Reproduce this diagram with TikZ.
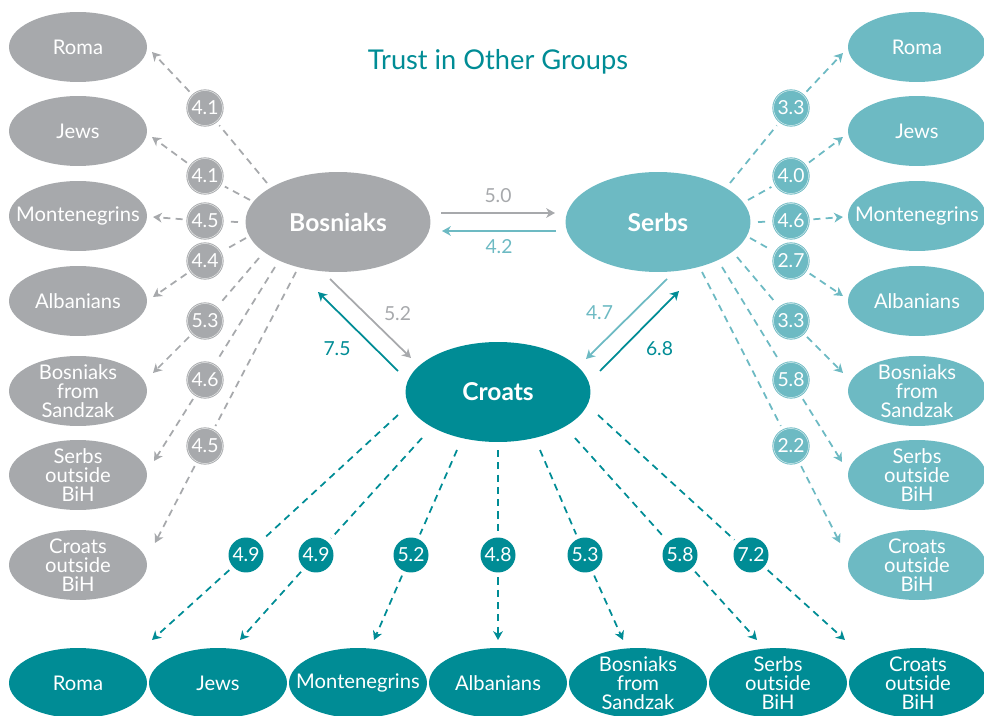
\documentclass[tikz,border=0pt]{standalone}
\usepackage{fontspec}
\setmainfont{Lato}
\usetikzlibrary{positioning,calc,arrows.meta,shapes.geometric}

\definecolor{grp}{HTML}{A7A9AC}
\definecolor{ltl}{HTML}{6DBAC3}
\definecolor{dtl}{HTML}{008C95}

\tikzset{
  side/.style={ellipse, minimum width=2.76cm, minimum height=1.4cm, inner sep=0pt},
  sidetxt/.style={text=white, align=center, font=\fontsize{11.5}{10.8}\selectfont},
  hub/.style={ellipse, minimum width=3.7cm, minimum height=2cm, text=white,
    font=\fontsize{14}{16}\selectfont\bfseries},
  badge/.style={circle, minimum size=0.7cm, inner sep=0pt, outer sep=0.1cm,
    text=white, font=\fontsize{11}{13}\selectfont},
  ring/.style={draw=#1, line width=0.5pt, double=white!75!#1, double distance=0.3pt},
  dsh/.style={line width=1pt, dash pattern=on 4pt off 3pt,
    -{Stealth[length=5pt,width=5.5pt,inset=1.5pt]}},
  sld/.style={line width=1pt, -{Stealth[length=5pt,width=5.5pt,inset=1.5pt]}},
  num/.style={font=\fontsize{11}{13}\selectfont},
}

\begin{document}
\begin{tikzpicture}[x=0.02cm,y=-0.02cm]
  \useasboundingbox (0,0) rectangle (984,716);

  \node[text=dtl, font=\fontsize{15.5}{18}\selectfont] (title) at (498,62) {Trust in Other Groups};

  % the three groups
  \node[hub, fill=grp] (bos) at (338,222) {Bosniaks};
  \node[hub, fill=ltl] (ser) at (658,222) {Serbs};
  \node[hub, fill=dtl] (cro) at (498,392) {Croats};

  % side columns
  \foreach \nm/\txt/\yy in {roma/Roma/47, jews/Jews/131, mont/Montenegrins/216,
      alb/Albanians/301, sand/{Bosniaks\\from\\Sandzak}/391,
      serb/{Serbs\\outside\\BiH}/475, croa/{Croats\\outside\\BiH}/565}{
    \node[side, fill=grp, label={[sidetxt]center:\txt}] (l\nm) at (78,\yy) {};
    \node[side, fill=ltl, label={[sidetxt]center:\txt}] (r\nm) at (917,\yy) {};
  }

  % bottom row
  \foreach \nm/\txt/\xx in {roma/Roma/78, jews/Jews/218, mont/Montenegrins/358,
      alb/Albanians/498, sand/{Bosniaks\\from\\Sandzak}/638,
      serb/{Serbs\\outside\\BiH}/778, croa/{Croats\\outside\\BiH}/918}{
    \node[side, fill=dtl, label={[sidetxt]center:\txt}] (b\nm) at (\xx,683) {};
  }

  % Bosniaks -> others
  \foreach \nm/\by/\val/\ax/\ay/\tx/\ty in {roma/108/4.1/-71/-39/74/5,
      jews/176/4.1/-88/-22/74/6, mont/221/4.5/-100/0/75/1, alb/261/4.4/-92/16/75/-4,
      sand/321/5.3/-79/36/75/-18, serb/380/4.6/-63/45/76/-14, croa/446/4.5/-42/50/77/-22}{
    \node[badge, fill=grp, ring=grp] (lb\nm) at (205,\by) {\val};
    \draw[dsh, grp] ($(bos)+(\ax,\ay)$) -- (lb\nm) -- ($(l\nm)+(\tx,\ty)$);
  }

  % Serbs -> others
  \foreach \nm/\by/\val/\ax/\ay/\tx/\ty in {roma/108/3.3/72/-39/-74/6,
      jews/176/4.0/90/-22/-74/6, mont/221/4.6/100/0/-74/1, alb/261/2.7/92/16/-74/-5,
      sand/321/3.3/79/35/-74/-18, serb/380/5.8/64/45/-75/-13, croa/446/2.2/44/50/-77/-22}{
    \node[badge, fill=ltl, ring=ltl] (rb\nm) at (791,\by) {\val};
    \draw[dsh, ltl] ($(ser)+(\ax,\ay)$) -- (rb\nm) -- ($(r\nm)+(\tx,\ty)$);
  }

  % Croats -> others
  \foreach \nm/\bx/\val/\ax/\ay/\tx/\ty in {roma/246/4.9/-100/23/74/-43,
      jews/316/4.9/-76/46/22/-43, mont/411/5.2/-41/58/16/-43, alb/498/4.8/0/58/0/-43,
      sand/585/5.3/42/58/-15/-43, serb/680/5.8/77/46/-21/-43, croa/751/7.2/100/23/-73/-43}{
    \node[badge, fill=dtl] (bb\nm) at (\bx,555) {\val};
    \draw[dsh, dtl] ($(cro)+(\ax,\ay)$) -- (bb\nm) -- ($(b\nm)+(\tx,\ty)$);
  }

  % between the three groups
  \draw[sld, grp] ($(bos)+(103,-9)$) -- node[num, shift={(0,-17)}] (n50) {5.0} ($(ser)+(-103,-9)$);
  \draw[sld, ltl] ($(ser)+(-102,9)$) -- node[num, shift={(0,16)}] (n42) {4.2} ($(bos)+(104,9)$);
  \draw[sld, grp] ($(bos)+(-8,57)$) -- node[num, shift={(27,-5)}] (n52) {5.2} ($(cro)+(-87,-34)$);
  \draw[sld, dtl] ($(cro)+(-100,-21)$) -- node[num, shift={(-21,17)}] (n75) {7.5} ($(bos)+(-20,70)$);
  \draw[sld, ltl] ($(ser)+(9,57)$) -- node[num, shift={(-27,-6)}] (n47) {4.7} ($(cro)+(88,-33)$);
  \draw[sld, dtl] ($(cro)+(102,-21)$) -- node[num, shift={(20,18)}] (n68) {6.8} ($(ser)+(21,69)$);
\end{tikzpicture}
\end{document}
